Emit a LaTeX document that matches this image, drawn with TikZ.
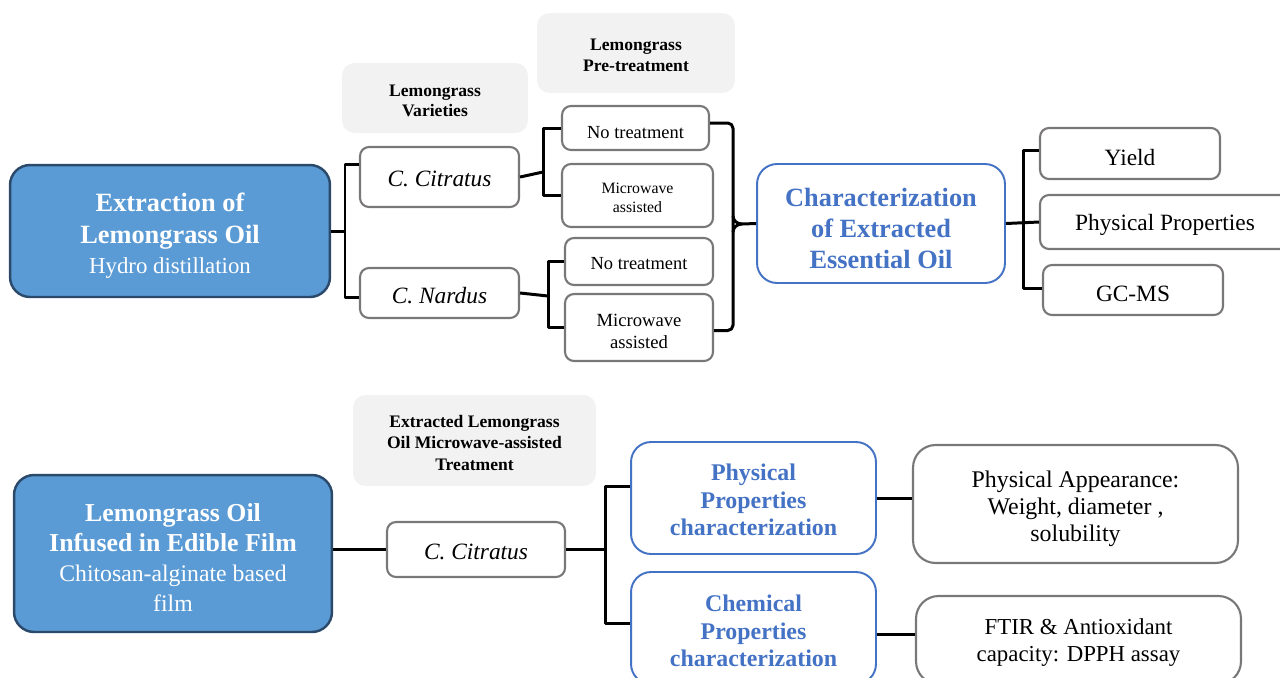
\documentclass[tikz,border=0pt]{standalone}
\usepackage{fontspec}
\setmainfont{Liberation Serif}
\usetikzlibrary{calc}
\definecolor{mainblue}{HTML}{5B9BD5}
\definecolor{mainedge}{HTML}{2B4A6B}
\definecolor{accblue}{HTML}{4472C4}
\definecolor{boxgray}{HTML}{7A7777}
\definecolor{hdrgray}{HTML}{F2F2F2}
\begin{document}
\begin{tikzpicture}[x=0.02cm,y=-0.02cm,
  mainbox/.style={draw=mainedge,line width=1.4pt,fill=mainblue,rounded corners=0.4cm,text=white,align=center,inner sep=0pt},
  graybox/.style={draw=boxgray,line width=1.2pt,fill=white,rounded corners=0.18cm,align=center,inner sep=0pt},
  bluebox/.style={draw=accblue,line width=1.1pt,fill=white,rounded corners=0.4cm,text=accblue,align=center,inner sep=0pt},
  hdr/.style={fill=hdrgray,rounded corners=0.25cm,align=center,inner sep=0pt,font=\fontsize{10}{11.8}\selectfont\bfseries},
  conn/.style={line width=1.7pt,line join=round}]
\useasboundingbox (0,0) rectangle (1280,677);
\clip (0,0) rectangle (1280,677);
%\draw[step=100,gray,very thin] (0,0) grid (1280,677);
% extraction part
\node[hdr,minimum width=3.72cm,minimum height=1.4cm] (hdrvar) at (435,98) {\rule{0pt}{9.7pt}Lemongrass\\Varieties};
\node[hdr,minimum width=3.96cm,minimum height=1.6cm,font=\fontsize{10}{12.5}\selectfont\bfseries] (hdrpre) at (636,53) {\rule{0pt}{9.2pt}Lemongrass\\Pre-treatment};
\node[mainbox,minimum width=6.4cm,minimum height=2.64cm,text depth=0pt,font=\fontsize{15}{18}\selectfont\bfseries] (extr) at (170,231)
  {\rule{0pt}{13.2pt}Extraction of\\Lemongrass Oil\\[-1pt]\fontsize{13}{16}\selectfont\mdseries Hydro distillation};
\node[graybox,minimum width=3.18cm,minimum height=1.2cm,font=\fontsize{13.3}{16}\selectfont\itshape] (citr) at (439.5,177) {\rule{0pt}{11.4pt}C. Citratus};
\node[graybox,minimum width=3.18cm,minimum height=1.0cm,font=\fontsize{13.3}{16}\selectfont\itshape] (nard) at (439.5,293) {\rule{0pt}{12.6pt}C. Nardus};
\node[graybox,minimum width=2.94cm,minimum height=0.88cm,font=\fontsize{10.5}{12}\selectfont] (nt1) at (635.5,128) {\rule{0pt}{11.5pt}No treatment};
\node[graybox,minimum width=3.02cm,minimum height=1.26cm,font=\fontsize{9}{10.8}\selectfont] (mw1) at (637.5,195.5) {\rule{0pt}{8.2pt}Microwave\\assisted};
\node[graybox,minimum width=2.96cm,minimum height=0.94cm,font=\fontsize{10.5}{12}\selectfont] (nt2) at (639,261.5) {\rule{0pt}{9.1pt}No treatment};
\node[graybox,minimum width=2.96cm,minimum height=1.34cm,font=\fontsize{10.6}{12.5}\selectfont] (mw2) at (639,327.5) {\rule{0pt}{11.6pt}Microwave\\assisted};
\node[bluebox,minimum width=4.96cm,minimum height=2.38cm,font=\fontsize{15}{17.5}\selectfont\bfseries] (char) at (881,223.5)
  {\rule{0pt}{16.1pt}Characterization\\of Extracted\\Essential Oil};
\node[graybox,minimum width=3.6cm,minimum height=1.02cm,font=\fontsize{13.3}{16}\selectfont] (yield) at (1130,153.5) {\rule{0pt}{13.8pt}Yield};
\node[graybox,minimum width=5.0cm,minimum height=1.08cm,text depth=0pt,font=\fontsize{13.3}{16}\selectfont] (phys) at (1165,222) {Physical Properties};
\node[graybox,minimum width=3.6cm,minimum height=1.0cm,font=\fontsize{13.3}{16}\selectfont] (gcms) at (1133,290) {\rule{0pt}{13.4pt}GC-MS};
\coordinate (sp1) at (345,231);
\coordinate (sp2) at (543,172);
\coordinate (sp3) at (548,296);
\coordinate (brc) at (733,224);
\coordinate (sp4) at (1023,223.5);
\draw[conn] (extr.east) -- (sp1);
\draw[conn] ($(citr.west)+(0,-13)$) -| (sp1) |- ($(nard.west)+(0,4)$);
\draw[conn] (citr.east) -- (sp2);
\draw[conn] (nt1.west) -| (sp2) |- (mw1.west);
\draw[conn] (nard.east) -- (sp3);
\draw[conn] (nt2.west) -| (sp3) |- (mw2.west);
\draw[conn,rounded corners=3pt] ($(nt1.east)+(0,-5)$) -| (brc) |- ($(mw2.east)+(0,3)$);
\draw[conn] ($(brc)+(0,-8)$) to[out=-90,in=180] ($(brc)+(9,0)$) -- (char.west);
\draw[conn] ($(brc)+(0,8)$) to[out=90,in=180] ($(brc)+(9,0)$);
\draw[conn] (char.east) -- (phys.west);
\draw[conn] ($(yield.west)+(0,-3.5)$) -| (sp4) |- ($(gcms.west)+(0,-2)$);
% edible film part
\node[hdr,minimum width=4.86cm,minimum height=1.82cm,font=\fontsize{10}{12.2}\selectfont\bfseries] (hdrfilm) at (474.5,440.5)
  {\rule{0pt}{9.7pt}Extracted Lemongrass\\Oil Microwave-assisted\\Treatment};
\node[mainbox,minimum width=6.36cm,minimum height=3.14cm,font=\fontsize{14.7}{17}\selectfont\bfseries] (loil) at (173,553.5)
  {\rule{0pt}{14.7pt}Lemongrass Oil\\Infused in Edible Film\\\fontsize{13.5}{16}\selectfont\mdseries Chitosan-alginate based\\\fontsize{13.5}{16}\selectfont\mdseries film};
\node[graybox,minimum width=3.56cm,minimum height=1.1cm,font=\fontsize{13.3}{16}\selectfont\itshape] (citr2) at (476,549.5) {\rule{0pt}{11.4pt}C. Citratus};
\node[bluebox,minimum width=4.9cm,minimum height=2.24cm,font=\fontsize{13.6}{15.6}\selectfont\bfseries] (pchar) at (753.5,498)
  {\rule{0pt}{11.6pt}Physical\\Properties\\characterization};
\node[bluebox,minimum width=4.9cm,minimum height=2.24cm,font=\fontsize{13.6}{15.6}\selectfont\bfseries] (cchar) at (753.5,628)
  {\rule{0pt}{12.8pt}Chemical\\Properties\\characterization};
\node[graybox,minimum width=6.5cm,minimum height=2.36cm,rounded corners=0.45cm,text depth=0pt,font=\fontsize{13.6}{15.4}\selectfont] (papp) at (1075.5,504)
  {\rule{0pt}{11.6pt}Physical Appearance:\\Weight, diameter ,\\solubility};
\node[graybox,minimum width=6.5cm,minimum height=1.76cm,rounded corners=0.45cm,text depth=0pt,font=\fontsize{13}{15.4}\selectfont] (ftir) at (1078.5,640)
  {FTIR \& Antioxidant\\capacity: DPPH assay};
\coordinate (sp5) at (605,553);
\draw[conn] (citr2.west -| loil.east) -- (citr2.west);
\draw[conn] (citr2.east) -- (citr2.east -| sp5);
\draw[conn] ($(pchar.west)+(0,-12)$) -| (sp5) |- ($(cchar.west)+(0,-5)$);
\draw[conn] (pchar.east) -- (pchar.east -| papp.west);
\draw[conn] ($(cchar.east)+(0,6)$) -- ($(ftir.west)+(0,-6)$);
\end{tikzpicture}
\end{document}
